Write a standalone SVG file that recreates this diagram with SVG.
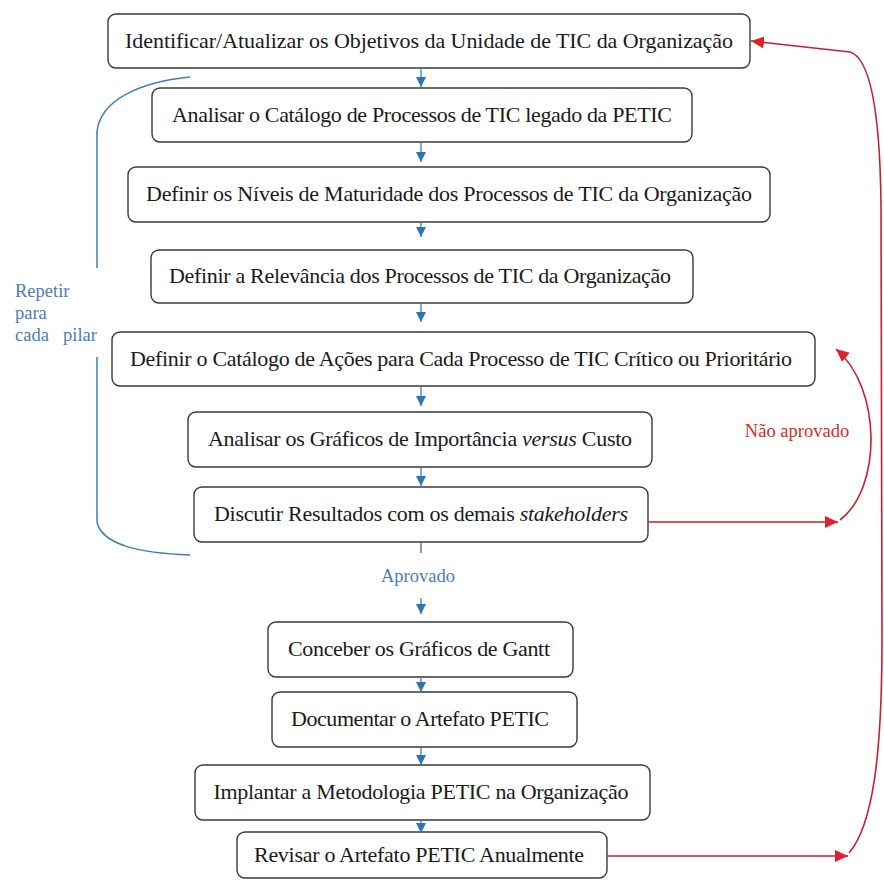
<svg xmlns="http://www.w3.org/2000/svg" width="884" height="880" viewBox="0 0 884 880">
<style>
.box{fill:#ffffff;stroke:#3a3a3a;stroke-width:1.4}
.sh{fill:none;stroke:#b0b0b0;stroke-width:1.2}
.t{font-family:"Liberation Serif","Times New Roman",serif;font-size:22px;fill:#1a1a1a;text-anchor:middle}
.it{font-style:italic}
.blue{stroke:#2e75b6;stroke-width:1.2;fill:none}
.red{stroke:#c8202a;stroke-width:1.6;fill:none}
.bracket{stroke:#3f7fb3;stroke-width:1.5;fill:none}
.lb{font-family:"Liberation Serif","Times New Roman",serif;font-size:18.5px;fill:#4a7db5}
.lr{font-family:"Liberation Serif","Times New Roman",serif;font-size:18.5px;fill:#d42a2a;text-anchor:middle}
</style>
<defs>
<marker id="bh" markerUnits="userSpaceOnUse" markerWidth="10" markerHeight="10" refX="10" refY="5" orient="auto">
<path d="M0,0 L10,5 L0,10 z" fill="#2e75b6"/>
</marker>
<marker id="rh" markerUnits="userSpaceOnUse" markerWidth="14" markerHeight="12" refX="13" refY="6" orient="auto">
<path d="M0,0 L13,6 L0,12 z" fill="#e0202a"/>
</marker>
</defs>

<g id="n1"><rect class="box" x="108" y="14" width="642" height="54" rx="8"/><text class="t" x="429" y="48" textLength="608">Identificar/Atualizar os Objetivos da Unidade de TIC da Organização</text></g>
<g id="n2"><rect class="box" x="152" y="88" width="540" height="54" rx="8"/><text class="t" x="422" y="122" textLength="500">Analisar o Catálogo de Processos de TIC legado da PETIC</text></g>
<g id="n3"><rect class="box" x="128" y="167" width="642" height="55" rx="8"/><text class="t" x="449" y="201" textLength="606">Definir os Níveis de Maturidade dos Processos de TIC da Organização</text></g>
<g id="n4"><rect class="box" x="151" y="250" width="542" height="53" rx="8"/><text class="t" x="420" y="283" textLength="502">Definir a Relevância dos Processos de TIC da Organização</text></g>
<g id="n5"><rect class="box" x="112" y="332" width="703" height="54" rx="8"/><text class="t" x="461" y="366" textLength="662">Definir o Catálogo de Ações para Cada Processo de TIC Crítico ou Prioritário</text></g>
<g id="n6"><rect class="box" x="188" y="412" width="464" height="55" rx="8"/><text class="t" x="420" y="446" textLength="424">Analisar os Gráficos de Importância <tspan class="it">versus</tspan> Custo</text></g>
<g id="n7"><rect class="box" x="194" y="487" width="454" height="55" rx="8"/><text class="t" x="421" y="521" textLength="414">Discutir Resultados com os demais <tspan class="it">stakeholders</tspan></text></g>
<g id="n8"><rect class="box" x="268" y="622" width="305" height="55" rx="8"/><text class="t" x="419" y="656" textLength="262">Conceber os Gráficos de Gantt</text></g>
<g id="n9"><rect class="box" x="272" y="692" width="305" height="55" rx="8"/><text class="t" x="420" y="726" textLength="258">Documentar o Artefato PETIC</text></g>
<g id="n10"><rect class="box" x="195" y="765" width="455" height="55" rx="8"/><text class="t" x="421" y="799" textLength="415">Implantar a Metodologia PETIC na Organização</text></g>
<g id="n11"><rect class="box" x="237" y="832" width="370" height="46" rx="8"/><text class="t" x="419" y="862" textLength="330">Revisar o Artefato PETIC Anualmente</text></g>

<g id="connectors">
<line class="blue" x1="421" y1="68" x2="421" y2="87" marker-end="url(#bh)"/>
<line class="blue" x1="421" y1="142" x2="421" y2="162" marker-end="url(#bh)"/>
<line class="blue" x1="421" y1="222" x2="421" y2="237" marker-end="url(#bh)"/>
<line class="blue" x1="421" y1="303" x2="421" y2="322" marker-end="url(#bh)"/>
<line class="blue" x1="421" y1="387" x2="421" y2="406" marker-end="url(#bh)"/>
<line class="blue" x1="421" y1="467" x2="421" y2="486" marker-end="url(#bh)"/>
<line x1="421" y1="542" x2="421" y2="553" style="stroke:#555;stroke-width:1.2"/>
<line class="blue" x1="421" y1="598" x2="421" y2="614" marker-end="url(#bh)"/>
<line class="blue" x1="421" y1="677" x2="421" y2="692" marker-end="url(#bh)"/>
<line class="blue" x1="421" y1="747" x2="421" y2="765" marker-end="url(#bh)"/>
<line class="blue" x1="421" y1="820" x2="421" y2="833" marker-end="url(#bh)"/>

<path class="red" d="M648 522 L838 522" marker-end="url(#rh)"/>
<path class="red" d="M840 520 C882 488 882 388 836 349" marker-end="url(#rh)"/>
<path class="red" d="M607 856 L848 856" marker-end="url(#rh)"/>
<path class="red" d="M849 853 C872 826 882 760 882 640 L881 205 C880 112 870 58 850 52 L751 41" marker-end="url(#rh)"/>

<path class="bracket" d="M190 77 C140 82 100 100 97 132 L97 268"/>
<path class="bracket" d="M97 357 L97 522 C102 545 140 553 190 555"/>
</g>

<text class="lb" x="15" y="297">Repetir</text>
<text class="lb" x="15" y="319">para</text>
<text class="lb" y="341"><tspan x="15">cada</tspan><tspan x="63">pilar</tspan></text>
<text class="lr" x="797" y="437">Não aprovado</text>
<text class="lb" x="418" y="582" text-anchor="middle">Aprovado</text>
</svg>
